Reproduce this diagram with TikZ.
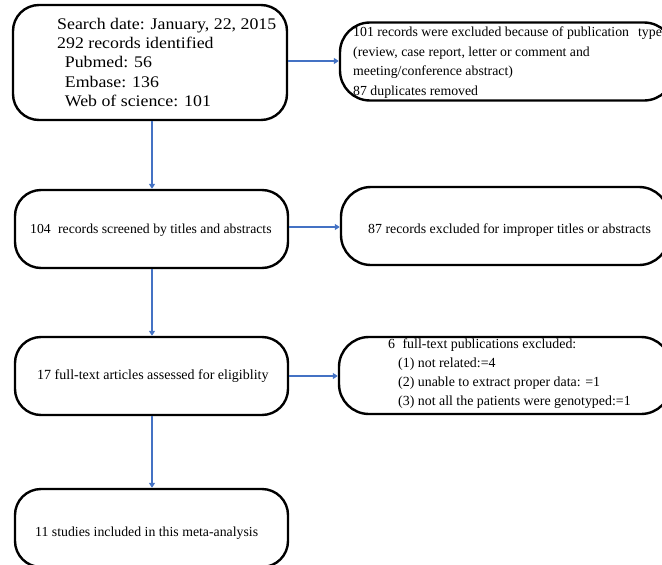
\documentclass[tikz,border=0pt]{standalone}
\usepackage{fontspec}
\setmainfont{Liberation Serif}
\usetikzlibrary{arrows.meta}
\definecolor{arrowblue}{RGB}{68,114,196}
\begin{document}
\begin{tikzpicture}[x=1pt,y=-1pt,
  box/.style={draw=black, line width=2.4pt, rounded corners=26pt, inner sep=0pt},
  txt/.style={inner sep=0pt, align=left, anchor=west},
  conn/.style={draw=arrowblue, line width=1.4pt, -{Triangle[width=6pt,length=5pt]}}]
\clip (0,0) rectangle (662,565);
\useasboundingbox (0,0) rectangle (662,565);
% left column boxes
\node[box, minimum width=274pt, minimum height=115pt] (b1) at (150,62.5) {};
\node[box, minimum width=273pt, minimum height=78pt] (b2) at (151.5,229) {};
\node[box, minimum width=273pt, minimum height=78pt] (b3) at (151.5,376) {};
\node[box, minimum width=273pt, minimum height=78pt] (b4) at (151.5,528) {};
% right column boxes
\node[box, rounded corners=30pt, minimum width=334pt, minimum height=78pt] (r1) at (507,61.5) {};
\node[box, rounded corners=30pt, minimum width=328pt, minimum height=78pt] (r2) at (505,226) {};
\node[box, rounded corners=30pt, minimum width=332pt, minimum height=77pt] (r3) at (505,375.5) {};
% texts
\node[txt, font=\fontsize{16.2}{19.3}\selectfont] (t1) at (57,64) {\scalebox{1.1}[1]{\begin{tabular}{@{}l@{}}Search date: January, 22, 2015\\292 records identified\\\hspace{7pt}Pubmed: 56\\\hspace{7pt}Embase: 136\\\hspace{7pt}Web of science: 101\end{tabular}}};
\node[txt, font=\fontsize{13.8}{19.6}\selectfont] (s1) at (353,62.5) {101 records were excluded because of publication\hspace{9pt}type\\(review, case report, letter or comment and\\meeting/conference abstract)\\87 duplicates removed};
\node[txt, font=\fontsize{13.7}{15}\selectfont] (t2) at (30,230) {104\hspace{4pt} records screened by titles and abstracts};
\node[txt, font=\fontsize{13.85}{15}\selectfont] (s2) at (368,230) {87 records excluded for improper titles or abstracts};
\node[txt, font=\fontsize{14}{15}\selectfont] (t3) at (37,376) {17 full-text articles assessed for eligiblity};
\node[txt, font=\fontsize{13.9}{19}\selectfont] (s3) at (388,373.5) {6\hspace{4pt} full-text publications excluded:\\\hspace{10pt}(1) not related:=4\\\hspace{10pt}(2) unable to extract proper data: =1\\\hspace{10pt}(3) not all the patients were genotyped:=1};
\node[txt, font=\fontsize{13.8}{15}\selectfont] (t4) at (35,533) {11 studies included in this meta-analysis};
% connectors
\draw[conn] (b1.south -| 152,0) -- (b2.north -| 152,0);
\draw[conn] (b2.south -| 152,0) -- (b3.north -| 152,0);
\draw[conn] (b3.south -| 152,0) -- (b4.north -| 152,0);
\draw[conn] (b1.east |- 0,61) -- (r1.west |- 0,61);
\draw[conn] (b2.east |- 0,227) -- (r2.west |- 0,227);
\draw[conn] (b3.east |- 0,376) -- (r3.west |- 0,376);
\end{tikzpicture}
\end{document}
